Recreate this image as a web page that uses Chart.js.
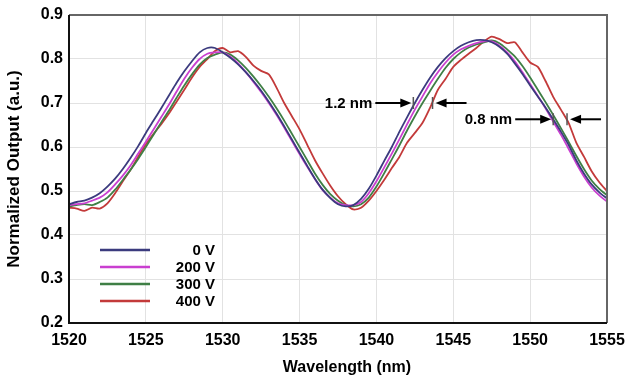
<!DOCTYPE html>
<html lang="en">
<head>
  <meta charset="UTF-8">
  <title>Normalized Output vs Wavelength</title>
  <script src="https://cdn.jsdelivr.net/npm/chart.js"></script>
  <style>
    html, body { margin: 0; padding: 0; background: #fff; }
    #wrap { width: 628px; height: 379px; }
  </style>
</head>
<body>
  <div id="wrap"><canvas id="spectrum" width="628" height="379"></canvas></div>

  <script>
    const wavelengths = [
      1520, 1520.5, 1521, 1521.5, 1522, 1522.5, 1523, 1523.5, 1524, 1524.5,
      1525, 1525.5, 1526, 1526.5, 1527, 1527.5, 1528, 1528.5, 1529, 1529.5,
      1530, 1530.5, 1531, 1531.5, 1532, 1532.5, 1533, 1533.5, 1534, 1534.5,
      1535, 1535.5, 1536, 1536.5, 1537, 1537.5, 1538, 1538.5, 1539, 1539.5,
      1540, 1540.5, 1541, 1541.5, 1542, 1542.5, 1543, 1543.5, 1544, 1544.5,
      1545, 1545.5, 1546, 1546.5, 1547, 1547.5, 1548, 1548.5, 1549, 1549.5,
      1550, 1550.5, 1551, 1551.5, 1552, 1552.5, 1553, 1553.5, 1554, 1554.5,
      1555
    ];

    const out0V = [
      0.470, 0.475, 0.478, 0.485, 0.495, 0.510, 0.528, 0.550, 0.575, 0.602,
      0.632, 0.660, 0.688, 0.717, 0.746, 0.772, 0.795, 0.815, 0.825, 0.825,
      0.815, 0.803, 0.788, 0.770, 0.750, 0.728, 0.703, 0.676, 0.647, 0.617,
      0.587, 0.557, 0.528, 0.503, 0.484, 0.470, 0.465, 0.468, 0.482, 0.505,
      0.535, 0.568, 0.600, 0.635, 0.668, 0.700, 0.730, 0.758, 0.782, 0.802,
      0.818, 0.830, 0.838, 0.843, 0.843, 0.838, 0.828, 0.812, 0.790, 0.766,
      0.740, 0.715, 0.690, 0.663, 0.635, 0.605, 0.570, 0.540, 0.515, 0.497,
      0.483
    ];

    const out200V = [
      0.468, 0.470, 0.472, 0.478, 0.485, 0.497, 0.515, 0.535, 0.558, 0.585,
      0.612, 0.640, 0.668, 0.696, 0.726, 0.755, 0.780, 0.800, 0.812, 0.815,
      0.815, 0.805, 0.790, 0.770, 0.748, 0.725, 0.700, 0.673, 0.644, 0.614,
      0.584, 0.555, 0.527, 0.502, 0.485, 0.472, 0.468, 0.468, 0.475, 0.495,
      0.522, 0.553, 0.585, 0.618, 0.652, 0.685, 0.715, 0.745, 0.770, 0.792,
      0.810, 0.822, 0.830, 0.836, 0.840, 0.840, 0.830, 0.815, 0.795, 0.770,
      0.743, 0.716, 0.688, 0.658, 0.628, 0.596, 0.563, 0.533, 0.508, 0.490,
      0.476
    ];

    const out300V = [
      0.465, 0.468, 0.470, 0.468, 0.475, 0.485, 0.503, 0.525, 0.548, 0.573,
      0.600, 0.628, 0.656, 0.683, 0.712, 0.740, 0.765, 0.787, 0.802, 0.810,
      0.815, 0.810, 0.797, 0.780, 0.760, 0.738, 0.714, 0.688, 0.660, 0.630,
      0.600, 0.570, 0.540, 0.514, 0.493, 0.478, 0.468, 0.465, 0.470, 0.485,
      0.510, 0.540, 0.572, 0.604, 0.638, 0.670, 0.700, 0.728, 0.755, 0.780,
      0.800, 0.815, 0.826, 0.833, 0.838, 0.842, 0.836, 0.822, 0.806, 0.784,
      0.758, 0.730, 0.702, 0.673, 0.643, 0.612, 0.580, 0.550, 0.524, 0.505,
      0.490
    ];

    const out400V = [
      0.462, 0.460, 0.455, 0.462, 0.460, 0.472, 0.495, 0.522, 0.548, 0.578,
      0.606, 0.630, 0.652, 0.676, 0.703, 0.730, 0.758, 0.782, 0.800, 0.818,
      0.825, 0.815, 0.818, 0.805, 0.785, 0.773, 0.765, 0.735, 0.700, 0.670,
      0.640, 0.605, 0.570, 0.540, 0.512, 0.488, 0.470, 0.458, 0.462, 0.478,
      0.500, 0.525, 0.552, 0.578, 0.610, 0.632, 0.655, 0.690, 0.730, 0.755,
      0.782, 0.798, 0.812, 0.825, 0.840, 0.851, 0.845, 0.836, 0.838, 0.815,
      0.792, 0.782, 0.750, 0.714, 0.685, 0.655, 0.610, 0.578, 0.545, 0.520,
      0.500
    ];

    const seriesNames = ['0 V', '200 V', '300 V', '400 V'];
    const seriesColors = ['#3b3b7e', '#c93fd0', '#3f7f45', '#c33a3a'];
    const seriesValues = [out0V, out200V, out300V, out400V];

    // shift markers: [label, left wavelength, right wavelength, output level]
    const shiftMarks = [
      ['1.2 nm', 1542.4, 1543.65, 0.70],
      ['0.8 nm', 1551.5, 1552.4, 0.663]
    ];

    const FONT = '"Liberation Sans", Arial, sans-serif';

    function arrow(ctx, x1, x2, y) {
      const dir = Math.sign(x2 - x1);
      ctx.beginPath();
      ctx.moveTo(x1, y);
      ctx.lineTo(x2 - dir * 8, y);
      ctx.stroke();
      ctx.beginPath();
      ctx.moveTo(x2, y);
      ctx.lineTo(x2 - dir * 11, y - 4.5);
      ctx.lineTo(x2 - dir * 11, y + 4.5);
      ctx.closePath();
      ctx.fill();
    }

    const extras = {
      id: 'extras',
      afterDatasetsDraw(chart) {
        const ctx = chart.ctx;
        const xs = chart.scales.x, ys = chart.scales.y;
        const a = chart.chartArea;
        ctx.save();

        // frame
        ctx.lineWidth = 2;
        ctx.strokeStyle = '#666';
        ctx.beginPath();
        ctx.moveTo(a.left, a.top);
        ctx.lineTo(a.right, a.top);
        ctx.lineTo(a.right, a.bottom);
        ctx.stroke();
        ctx.strokeStyle = '#111';
        ctx.beginPath();
        ctx.moveTo(a.left, a.top);
        ctx.lineTo(a.left, a.bottom);
        ctx.lineTo(a.right, a.bottom);
        ctx.stroke();

        // x axis title (sits a little right of centre in the original)
        ctx.fillStyle = '#000';
        ctx.font = 'bold 16px ' + FONT;
        ctx.textAlign = 'center';
        ctx.textBaseline = 'middle';
        ctx.fillText('Wavelength (nm)', (a.left + a.right) / 2 + 9, a.bottom + 45);

        // legend
        ctx.font = 'bold 15px ' + FONT;
        ctx.textAlign = 'right';
        seriesNames.forEach((name, i) => {
          const y = a.top + 235 + i * 17;
          ctx.strokeStyle = seriesColors[i];
          ctx.lineWidth = 2.5;
          ctx.beginPath();
          ctx.moveTo(a.left + 31, y);
          ctx.lineTo(a.left + 81, y);
          ctx.stroke();
          ctx.fillStyle = '#000';
          ctx.fillText(name, a.left + 146, y + 1);
        });

        // wavelength shift markers
        ctx.font = 'bold 15px ' + FONT;
        shiftMarks.forEach(([label, w1, w2, level]) => {
          const x1 = xs.getPixelForValue(w1);
          const x2 = xs.getPixelForValue(w2);
          const y = ys.getPixelForValue(level);
          ctx.strokeStyle = '#555';
          ctx.lineWidth = 1.5;
          [x1, x2].forEach(x => {
            ctx.beginPath();
            ctx.moveTo(x, y - 6);
            ctx.lineTo(x, y + 6);
            ctx.stroke();
          });
          ctx.strokeStyle = '#000';
          ctx.fillStyle = '#000';
          ctx.lineWidth = 2;
          arrow(ctx, x1 - 38, x1 - 2, y);
          arrow(ctx, x2 + 34, x2 + 3, y);
          ctx.textAlign = 'right';
          ctx.fillText(label, x1 - 41, y + 1);
        });

        ctx.restore();
      }
    };

    const ctx = document.getElementById('spectrum').getContext('2d');
    new Chart(ctx, {
      type: 'line',
      data: {
        labels: wavelengths,
        datasets: seriesValues.map((vals, i) => ({
          label: seriesNames[i],
          data: vals.map((v, j) => ({ x: wavelengths[j], y: v })),
          borderColor: seriesColors[i],
          borderWidth: 1.8,
          pointRadius: 0,
          tension: 0.25,
          fill: false
        }))
      },
      options: {
        responsive: false,
        animation: false,
        layout: { padding: { top: 15, right: 21, left: 0, bottom: 0 } },
        plugins: {
          legend: { display: false },
          tooltip: { enabled: false }
        },
        scales: {
          x: {
            type: 'linear',
            min: 1520,
            max: 1555,
            afterFit(scale) {
              scale.height = 56;
              scale.paddingLeft = 0;
              scale.paddingRight = 0;
            },
            ticks: {
              stepSize: 5,
              color: '#000',
              font: { family: FONT, size: 16, weight: 'bold' },
              padding: 8,
              callback: v => v
            },
            grid: { color: '#e2e2e2', drawTicks: false },
            border: { display: false },
            title: { display: false }
          },
          y: {
            min: 0.2,
            max: 0.9,
            afterFit(scale) {
              scale.width = 69;
              scale.paddingTop = 0;
              scale.paddingBottom = 0;
            },
            ticks: {
              stepSize: 0.1,
              color: '#000',
              font: { family: FONT, size: 16, weight: 'bold' },
              padding: 6,
              callback: v => v.toFixed(1)
            },
            grid: { color: '#e2e2e2', drawTicks: false },
            border: { display: false },
            title: {
              display: true,
              text: 'Normalized Output (a.u.)',
              color: '#000',
              font: { family: FONT, size: 17, weight: 'bold' },
              padding: { top: 4, bottom: 2 }
            }
          }
        }
      },
      plugins: [extras]
    });
  </script>
</body>
</html>
